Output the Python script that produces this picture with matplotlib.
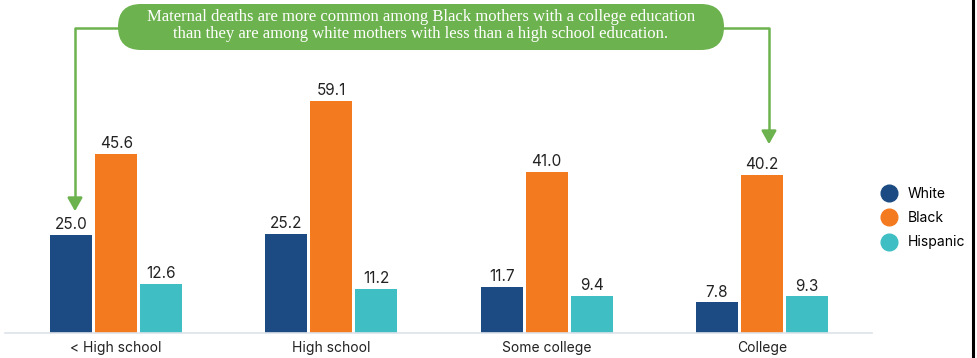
import matplotlib
matplotlib.use("Agg")
import matplotlib.pyplot as plt
import numpy as np
from matplotlib.lines import Line2D
from matplotlib.patches import FancyBboxPatch

# maternal deaths per 100,000 live births, by mother's education
categories = ["< High school", "High school", "Some college", "College"]
groups = ["White", "Black", "Hispanic"]
white = [25.0, 25.2, 11.7, 7.8]
black = [45.6, 59.1, 41.0, 40.2]
hispanic = [12.6, 11.2, 9.4, 9.3]
colors = ["#1b4b82", "#f47a20", "#3fbfc3"]
green = "#6cb24e"

plt.rcParams["font.family"] = ["Inter", "DejaVu Sans"]

W, H = 978, 358
fig = plt.figure(figsize=(W / 100, H / 100), dpi=100)
fig.patch.set_facecolor("white")

# main bar axes, positioned in pixels
left, right, bottom, top = 5, 872, 333, 55
ax = fig.add_axes([left / W, 1 - bottom / H, (right - left) / W, (bottom - top) / H])

x = np.arange(len(categories))
pitch = 45 / 215
width = 42 / 215
for i, (vals, col) in enumerate(zip([white, black, hispanic], colors)):
    bars = ax.bar(x + (i - 1) * pitch, vals, width, color=col, label=groups[i], zorder=2)
    ax.bar_label(bars, labels=[f"{v:.1f}" for v in vals], padding=2,
                 fontsize=11, color="#222222")

ax.set_xlim(-(116 - left) / 215, 3 + (right - 762) / 215)
ax.set_ylim(0, (bottom - top) / 3.925)
ax.set_xticks(x)
ax.set_xticklabels(categories, fontsize=10, color="#222222")
ax.tick_params(axis="x", length=0, pad=6)
ax.set_yticks([])
for s in ["top", "right", "left"]:
    ax.spines[s].set_visible(False)
ax.spines["bottom"].set_color("#dde2ea")
ax.spines["bottom"].set_linewidth(1.2)

# legend with round markers
handles = [Line2D([], [], marker="o", linestyle="", markersize=12,
                  markerfacecolor=c, markeredgecolor=c) for c in colors]
fig.legend(handles, groups, loc="center left", frameon=False, fontsize=10,
           bbox_to_anchor=(870 / W, 1 - 218 / H), labelspacing=0.75,
           handletextpad=0.8, handlelength=1.0)

# overlay in pixel coordinates for the callout
ov = fig.add_axes([0, 0, 1, 1], facecolor="none")
ov.set_xlim(0, W)
ov.set_ylim(H, 0)
ov.axis("off")

box = FancyBboxPatch((118, 4), 606, 46, boxstyle="round,pad=0,rounding_size=23",
                     facecolor=green, edgecolor="none", zorder=3)
ov.add_patch(box)
ov.text(421, 17, "Maternal deaths are more common among Black mothers with a college education",
        ha="center", va="center", color="white", fontsize=12,
        family="Liberation Serif", zorder=4)
ov.text(421, 34, "than they are among white mothers with less than a high school education.",
        ha="center", va="center", color="white", fontsize=12,
        family="Liberation Serif", zorder=4)

# connector lines and arrows
ov.plot([120, 75, 75], [28, 28, 205], color=green, lw=1.8, solid_capstyle="butt")
ov.annotate("", xy=(75, 214), xytext=(75, 198),
            arrowprops=dict(arrowstyle="-|>,head_width=0.45,head_length=0.8",
                            color=green, lw=1.8))
ov.plot([722, 769, 769], [28, 28, 135], color=green, lw=1.8, solid_capstyle="butt")
ov.annotate("", xy=(769, 147), xytext=(769, 128),
            arrowprops=dict(arrowstyle="-|>,head_width=0.45,head_length=0.8",
                            color=green, lw=1.8))

# frame edge at right
ov.plot([973, 973], [0, H], color="black", lw=2.2)

fig.savefig("out.png", dpi=100, facecolor="white")
